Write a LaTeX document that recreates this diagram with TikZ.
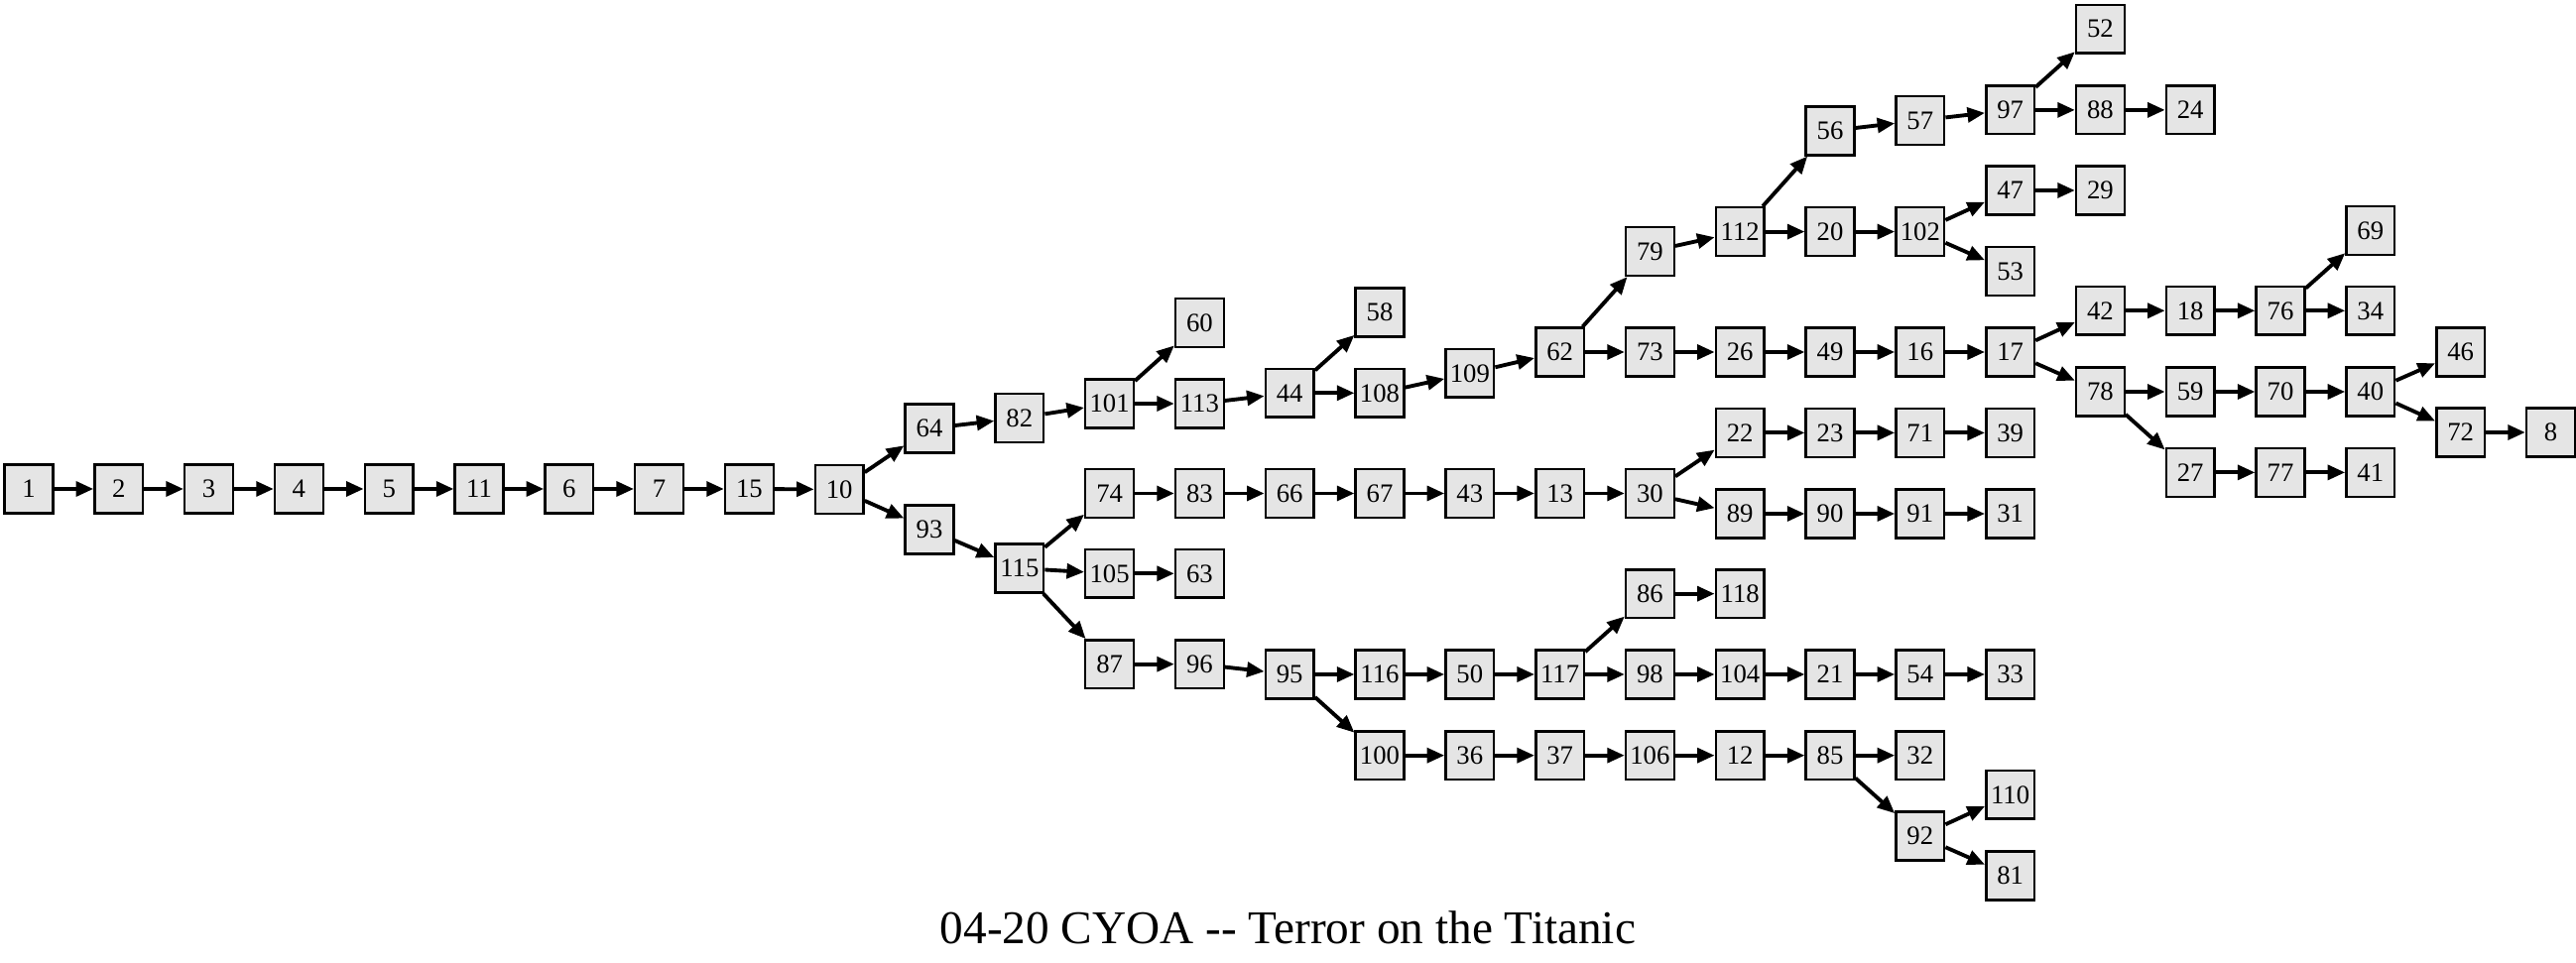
\documentclass[tikz,border=0pt]{standalone}
\usepackage{fontspec}
\setmainfont{Liberation Serif}
\usetikzlibrary{arrows.meta}
\definecolor{pagefill}{HTML}{E5E5E5}
\tikzset{
  chap/.style={draw, line width=0.7pt, fill=pagefill, minimum size=0.487cm, inner sep=0pt,
    font=\fontsize{7.6}{8}\selectfont},
  jump/.style={line width=1.1pt, -{Triangle[length=5pt,width=4.2pt]}},
}

\begin{document}
\begin{tikzpicture}[x=0.908cm, y=-1cm]
\path[use as bounding box] (-0.3194,0) rectangle (28.2819,9.71);
\node[chap] (n1) at (0,4.93) {1};
\node[chap] (n2) at (1,4.93) {2};
\node[chap] (n3) at (2,4.93) {3};
\node[chap] (n4) at (3,4.93) {4};
\node[chap] (n5) at (4,4.93) {5};
\node[chap] (n11) at (5,4.93) {11};
\node[chap] (n6) at (6,4.93) {6};
\node[chap] (n7) at (7,4.93) {7};
\node[chap] (n15) at (8,4.93) {15};
\node[chap] (n10) at (9,4.935) {10};
\node[chap] (n64) at (10,4.32) {64};
\node[chap] (n93) at (10,5.34) {93};
\node[chap] (n82) at (11,4.215) {82};
\node[chap] (n115) at (11,5.73) {115};
\node[chap] (n101) at (12,4.07) {101};
\node[chap] (n74) at (12,4.975) {74};
\node[chap] (n105) at (12,5.783) {105};
\node[chap] (n87) at (12,6.697) {87};
\node[chap] (n60) at (13,3.255) {60};
\node[chap] (n113) at (13,4.07) {113};
\node[chap] (n83) at (13,4.975) {83};
\node[chap] (n63) at (13,5.783) {63};
\node[chap] (n96) at (13,6.697) {96};
\node[chap] (n44) at (14,3.963) {44};
\node[chap] (n66) at (14,4.975) {66};
\node[chap] (n95) at (14,6.80) {95};
\node[chap] (n58) at (15,3.15) {58};
\node[chap] (n108) at (15,3.963) {108};
\node[chap] (n67) at (15,4.975) {67};
\node[chap] (n116) at (15,6.80) {116};
\node[chap] (n100) at (15,7.617) {100};
\node[chap] (n109) at (16,3.763) {109};
\node[chap] (n43) at (16,4.975) {43};
\node[chap] (n50) at (16,6.80) {50};
\node[chap] (n36) at (16,7.617) {36};
\node[chap] (n62) at (17,3.55) {62};
\node[chap] (n13) at (17,4.975) {13};
\node[chap] (n117) at (17,6.80) {117};
\node[chap] (n37) at (17,7.617) {37};
\node[chap] (n79) at (18,2.536) {79};
\node[chap] (n73) at (18,3.55) {73};
\node[chap] (n30) at (18,4.975) {30};
\node[chap] (n86) at (18,5.987) {86};
\node[chap] (n98) at (18,6.80) {98};
\node[chap] (n106) at (18,7.617) {106};
\node[chap] (n112) at (19,2.336) {112};
\node[chap] (n26) at (19,3.55) {26};
\node[chap] (n22) at (19,4.364) {22};
\node[chap] (n89) at (19,5.18) {89};
\node[chap] (n118) at (19,5.987) {118};
\node[chap] (n104) at (19,6.80) {104};
\node[chap] (n12) at (19,7.617) {12};
\node[chap] (n56) at (20,1.32) {56};
\node[chap] (n20) at (20,2.336) {20};
\node[chap] (n49) at (20,3.55) {49};
\node[chap] (n23) at (20,4.364) {23};
\node[chap] (n90) at (20,5.18) {90};
\node[chap] (n21) at (20,6.80) {21};
\node[chap] (n85) at (20,7.617) {85};
\node[chap] (n57) at (21,1.214) {57};
\node[chap] (n102) at (21,2.336) {102};
\node[chap] (n16) at (21,3.55) {16};
\node[chap] (n71) at (21,4.364) {71};
\node[chap] (n91) at (21,5.18) {91};
\node[chap] (n54) at (21,6.80) {54};
\node[chap] (n32) at (21,7.617) {32};
\node[chap] (n92) at (21,8.43) {92};
\node[chap] (n97) at (22,1.109) {97};
\node[chap] (n47) at (22,1.92) {47};
\node[chap] (n53) at (22,2.736) {53};
\node[chap] (n17) at (22,3.55) {17};
\node[chap] (n39) at (22,4.364) {39};
\node[chap] (n31) at (22,5.18) {31};
\node[chap] (n33) at (22,6.80) {33};
\node[chap] (n110) at (22,8.013) {110};
\node[chap] (n81) at (22,8.83) {81};
\node[chap] (n52) at (23,0.293) {52};
\node[chap] (n88) at (23,1.109) {88};
\node[chap] (n29) at (23,1.92) {29};
\node[chap] (n42) at (23,3.133) {42};
\node[chap] (n78) at (23,3.95) {78};
\node[chap] (n24) at (24,1.109) {24};
\node[chap] (n18) at (24,3.133) {18};
\node[chap] (n59) at (24,3.95) {59};
\node[chap] (n27) at (24,4.764) {27};
\node[chap] (n76) at (25,3.133) {76};
\node[chap] (n70) at (25,3.95) {70};
\node[chap] (n77) at (25,4.764) {77};
\node[chap] (n69) at (26,2.325) {69};
\node[chap] (n34) at (26,3.133) {34};
\node[chap] (n40) at (26,3.95) {40};
\node[chap] (n41) at (26,4.764) {41};
\node[chap] (n46) at (27,3.55) {46};
\node[chap] (n72) at (27,4.36) {72};
\node[chap] (n8) at (28,4.36) {8};
\node[anchor=base, font=\fontsize{13.45}{15}\selectfont] (title) at (13.98,9.517) {04-20 CYOA -{}- Terror on the Titanic};
\foreach \a/\b in {1/2,2/3,3/4,4/5,5/11,11/6,6/7,7/15,15/10,10/64,10/93,64/82,82/101,
  101/60,101/113,113/44,44/58,44/108,108/109,109/62,62/79,62/73,79/112,112/56,112/20,
  56/57,57/97,97/52,97/88,88/24,20/102,102/47,102/53,47/29,73/26,26/49,49/16,16/17,
  17/42,17/78,42/18,18/76,76/69,76/34,78/59,78/27,59/70,70/40,40/46,40/72,72/8,27/77,77/41,
  93/115,115/74,115/105,115/87,74/83,83/66,66/67,67/43,43/13,13/30,30/22,30/89,22/23,
  23/71,71/39,89/90,90/91,91/31,105/63,87/96,96/95,95/116,95/100,116/50,50/117,117/86,
  117/98,86/118,98/104,104/21,21/54,54/33,100/36,36/37,37/106,106/12,12/85,85/32,85/92,
  92/110,92/81}
  \draw[jump] (n\a) -- (n\b);
\end{tikzpicture}
\end{document}
